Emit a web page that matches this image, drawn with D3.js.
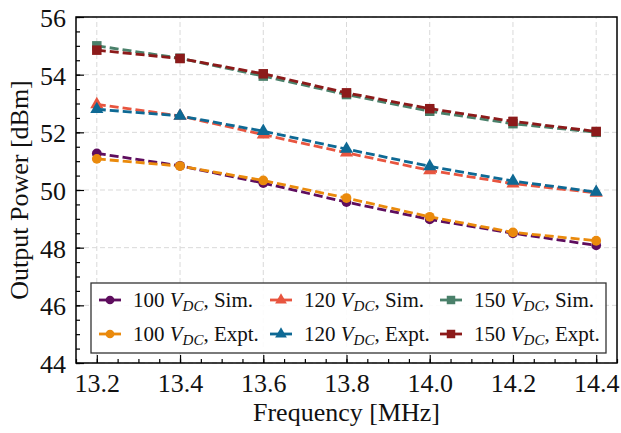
<!DOCTYPE html>
<html>
<head>
<meta charset="utf-8">
<script src="https://cdn.jsdelivr.net/npm/d3@7"></script>
<style>
  html, body { margin: 0; padding: 0; background: #fff; }
  svg { display: block; font-family: "Liberation Serif", "DejaVu Serif", serif; }
</style>
</head>
<body>
<svg id="chart" width="621" height="433"></svg>
<script>
// Frequencies (MHz)
const frequencies = [13.2, 13.4, 13.6, 13.8, 14.0, 14.2, 14.4];

// Output power (dBm) per supply voltage, simulated and measured
const sim100  = [51.27, 50.84, 50.24, 49.58, 48.98, 48.50, 48.08];
const expt100 = [51.08, 50.83, 50.33, 49.72, 49.07, 48.53, 48.24];
const sim120  = [52.97, 52.57, 51.92, 51.29, 50.68, 50.22, 49.90];
const expt120 = [52.80, 52.57, 52.04, 51.42, 50.82, 50.31, 49.93];
const sim150  = [55.00, 54.57, 53.95, 53.31, 52.73, 52.30, 52.00];
const expt150 = [54.85, 54.56, 54.03, 53.37, 52.82, 52.38, 52.03];

const xTicks = [13.2, 13.4, 13.6, 13.8, 14.0, 14.2, 14.4];
const yTicks = [44, 46, 48, 50, 52, 54, 56];

const series = [
  { volt: "100", kind: "Sim.",  values: sim100,  color: "#5e0d5e", symbol: d3.symbolCircle,   size: 75 },
  { volt: "100", kind: "Expt.", values: expt100, color: "#ea8a0c", symbol: d3.symbolCircle,   size: 75 },
  { volt: "120", kind: "Sim.",  values: sim120,  color: "#e8553f", symbol: d3.symbolTriangle, size: 75 },
  { volt: "120", kind: "Expt.", values: expt120, color: "#0e6994", symbol: d3.symbolTriangle, size: 75 },
  { volt: "150", kind: "Sim.",  values: sim150,  color: "#4a806a", symbol: d3.symbolSquare,   size: 90 },
  { volt: "150", kind: "Expt.", values: expt150, color: "#8c1a1a", symbol: d3.symbolSquare,   size: 90 }
];

const svg = d3.select("#chart");
const margin = { left: 76, right: 4, top: 17, bottom: 70 };
const W = 621, H = 433;
const x = d3.scaleLinear().domain([13.15, 14.45]).range([margin.left, W - margin.right]);
const y = d3.scaleLinear().domain([44, 56]).range([H - margin.bottom, margin.top]);

// Grid
const grid = svg.append("g").attr("stroke", "#d9d9d9").attr("stroke-width", 1).attr("stroke-dasharray", "5,3");
xTicks.forEach(t => grid.append("line")
  .attr("x1", x(t)).attr("x2", x(t)).attr("y1", y(44)).attr("y2", y(56)));
yTicks.forEach(t => grid.append("line")
  .attr("x1", x(13.15)).attr("x2", x(14.45)).attr("y1", y(t)).attr("y2", y(t)));

// Axes with inward ticks
const xMinor = d3.range(13.15, 14.46, 0.05).map(v => +v.toFixed(2));
const yMinor = d3.range(44, 56.01, 0.5);

const xAxisMinor = svg.append("g").attr("transform", `translate(0,${y(44)})`)
  .call(d3.axisBottom(x).tickValues(xMinor).tickSize(-4).tickFormat(""));
const xAxis = svg.append("g").attr("transform", `translate(0,${y(44)})`)
  .call(d3.axisBottom(x).tickValues(xTicks).tickSize(-8).tickPadding(11).tickFormat(d3.format(".1f")));
const yAxisMinor = svg.append("g").attr("transform", `translate(${x(13.15)},0)`)
  .call(d3.axisLeft(y).tickValues(yMinor).tickSize(-4).tickFormat(""));
const yAxis = svg.append("g").attr("transform", `translate(${x(13.15)},0)`)
  .call(d3.axisLeft(y).tickValues(yTicks).tickSize(-8).tickPadding(10).tickFormat(d3.format("d")));

[xAxisMinor, xAxis, yAxisMinor, yAxis].forEach(g => {
  g.select(".domain").remove();
  g.selectAll("line").attr("stroke", "#000").attr("stroke-width", 1.2);
  g.selectAll("text").attr("font-family", "Liberation Serif").attr("font-size", 26).attr("fill", "#111");
});
yAxis.selectAll("text").attr("dy", "0.36em");

// Series: dashed lines with markers
series.forEach(s => {
  const pts = frequencies.map((f, i) => [f, s.values[i]]);
  svg.append("path")
    .datum(pts)
    .attr("fill", "none")
    .attr("stroke", s.color)
    .attr("stroke-width", 2.8)
    .attr("stroke-dasharray", "9,4")
    .attr("d", d3.line().x(d => x(d[0])).y(d => y(d[1])));
  svg.append("g").selectAll("path")
    .data(pts)
    .join("path")
    .attr("transform", d => `translate(${x(d[0])},${y(d[1])})`)
    .attr("d", d3.symbol().type(s.symbol).size(s.size))
    .attr("fill", s.color);
});

// Frame
svg.append("rect")
  .attr("x", x(13.15)).attr("y", y(56))
  .attr("width", x(14.45) - x(13.15)).attr("height", y(44) - y(56))
  .attr("fill", "none").attr("stroke", "#000").attr("stroke-width", 1.5);

// Legend
const legend = svg.append("g");
legend.append("rect")
  .attr("x", 91).attr("y", 283).attr("width", 515).attr("height", 70)
  .attr("fill", "#fff").attr("fill-opacity", 0.9)
  .attr("stroke", "#333").attr("stroke-width", 1.3);
const colX = [99, 270, 440];
const rowY = [300, 334];
series.forEach((s, i) => {
  const cx = colX[Math.floor(i / 2)], cy = rowY[i % 2];
  const g = legend.append("g").attr("transform", `translate(${cx},${cy})`);
  g.append("line").attr("x1", 0).attr("x2", 22).attr("y1", 0).attr("y2", 0)
    .attr("stroke", s.color).attr("stroke-width", 2.8);
  g.append("path").attr("transform", "translate(11,0)")
    .attr("d", d3.symbol().type(s.symbol).size(s.size * 0.8)).attr("fill", s.color);
  const t = g.append("text").attr("x", 34).attr("y", 7)
    .attr("font-size", 21).attr("fill", "#111");
  t.append("tspan").text(s.volt + " ");
  t.append("tspan").attr("font-style", "italic").text("V");
  t.append("tspan").attr("font-style", "italic").attr("font-size", 15).attr("dy", 4).text("DC");
  t.append("tspan").attr("dy", -4).text(", " + s.kind);
});

// Axis titles
svg.append("text")
  .attr("x", (x(13.15) + x(14.45)) / 2).attr("y", 421)
  .attr("text-anchor", "middle").attr("font-size", 26).attr("fill", "#111")
  .text("Frequency [MHz]");
svg.append("text")
  .attr("transform", `translate(28,${(y(44) + y(56)) / 2}) rotate(-90)`)
  .attr("text-anchor", "middle").attr("font-size", 26).attr("fill", "#111")
  .text("Output Power [dBm]");
</script>
</body>
</html>
